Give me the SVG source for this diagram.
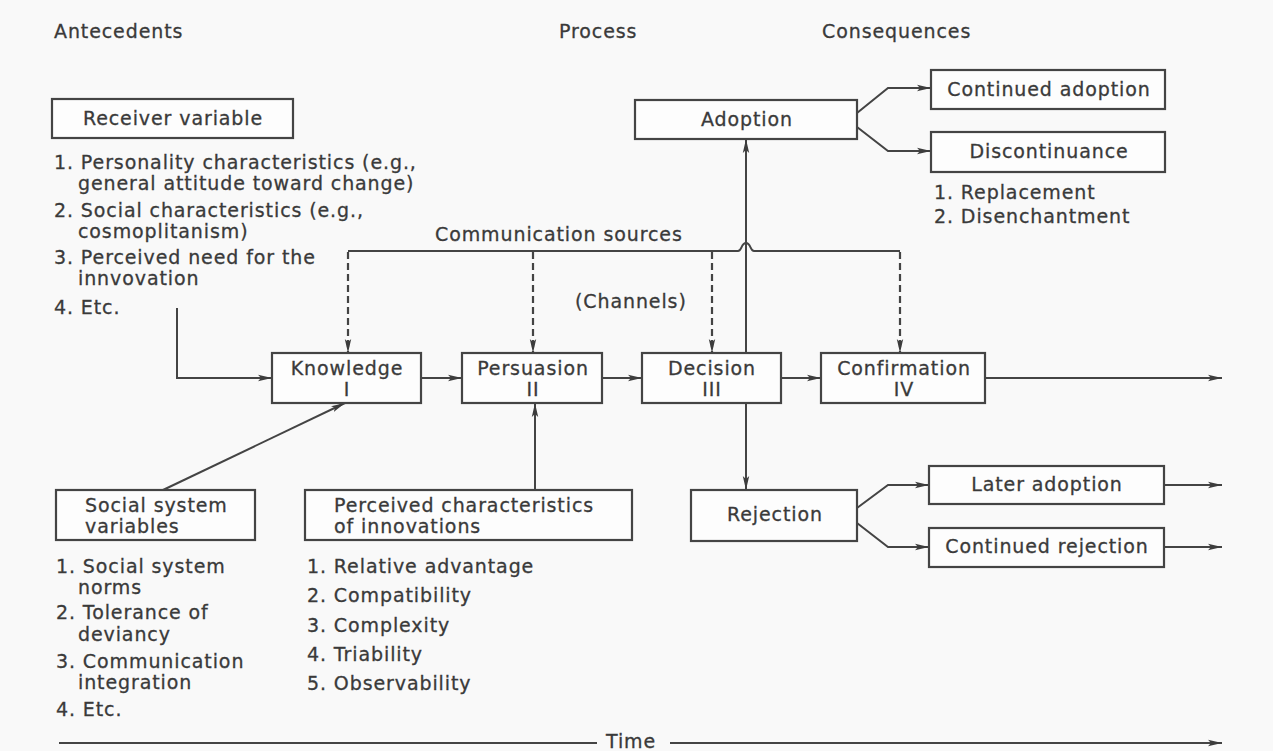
<svg xmlns="http://www.w3.org/2000/svg" width="1273" height="751" viewBox="0 0 1273 751">
<defs>
<marker id="ah" viewBox="0 0 14 8" refX="14" refY="4" markerWidth="14" markerHeight="8" markerUnits="userSpaceOnUse" orient="auto">
<path d="M0,0.8 L14,4 L0,7.2 L3,4 Z" fill="#3c3c3c"/>
</marker>
<style>
text{font-family:"DejaVu Sans","Liberation Sans",sans-serif;font-size:19px;fill:#3a3a3a;stroke:#3a3a3a;stroke-width:0.3px;letter-spacing:0.9px}
.c{text-anchor:middle}
.box{fill:#fdfdfd;stroke:#444;stroke-width:2.2}
.ln{fill:none;stroke:#444;stroke-width:2}
.ar{fill:none;stroke:#444;stroke-width:2;marker-end:url(#ah)}
.da{fill:none;stroke:#444;stroke-width:2.2;stroke-dasharray:7 4;marker-end:url(#ah)}
</style>
</defs>
<rect x="0" y="0" width="1273" height="751" fill="#f9f9f9"/>

<g id="headings">
<text x="54" y="38">Antecedents</text>
<text x="559" y="38">Process</text>
<text x="822" y="38">Consequences</text>
</g>

<g id="connectors">
<path class="ln" d="M348,251 H738 C742,251 741,243 746,243 C751,243 750,251 754,251 H900"/>
<path class="da" d="M348,252 V353"/>
<path class="da" d="M533,252 V353"/>
<path class="da" d="M712,252 V353"/>
<path class="da" d="M900,252 V353"/>
<path class="ar" d="M177,308 V378 H272"/>
<path class="ar" d="M163,490 L345,403"/>
<path class="ar" d="M535,490 V403"/>
<path class="ar" d="M421,378 H462"/>
<path class="ar" d="M602,378 H642"/>
<path class="ar" d="M781,378 H821"/>
<path class="ar" d="M985,378 H1222"/>
<path class="ar" d="M746,353 V139"/>
<path class="ar" d="M746,403 V490"/>
<path class="ar" d="M857,113 L888,88 H931"/>
<path class="ar" d="M857,127 L888,151 H931"/>
<path class="ar" d="M857,508 L888,485 H929"/>
<path class="ar" d="M857,523 L888,547 H929"/>
<path class="ar" d="M1164,485 H1222"/>
<path class="ar" d="M1164,547 H1222"/>
<path class="ln" d="M59,743 H597"/>
<path class="ar" d="M670,743 H1222"/>
</g>

<g id="time-label"><text x="606" y="748">Time</text></g>
<g id="comm-label"><text x="435" y="241">Communication sources</text></g>
<g id="channels-label"><text x="575" y="308">(Channels)</text></g>

<g id="receiver">
<rect class="box" x="52" y="99" width="241" height="39"/>
<text class="c" x="173" y="125">Receiver variable</text>
<text x="54" y="169">1. Personality characteristics (e.g.,</text>
<text x="78" y="190">general attitude toward change)</text>
<text x="54" y="217">2. Social characteristics (e.g.,</text>
<text x="78" y="238">cosmoplitanism)</text>
<text x="54" y="264">3. Perceived need for the</text>
<text x="78" y="285">innvovation</text>
<text x="54" y="314">4. Etc.</text>
</g>

<g id="knowledge">
<rect class="box" x="272" y="353" width="149" height="50"/>
<text class="c" x="347" y="375">Knowledge</text>
<text class="c" x="347" y="396">I</text>
</g>
<g id="persuasion">
<rect class="box" x="462" y="353" width="140" height="50"/>
<text class="c" x="533" y="375">Persuasion</text>
<text class="c" x="533" y="396">II</text>
</g>
<g id="decision">
<rect class="box" x="642" y="353" width="139" height="50"/>
<text class="c" x="712" y="375">Decision</text>
<text class="c" x="712" y="396">III</text>
</g>
<g id="confirmation">
<rect class="box" x="821" y="353" width="164" height="50"/>
<text class="c" x="904" y="375">Confirmation</text>
<text class="c" x="904" y="396">IV</text>
</g>

<g id="adoption">
<rect class="box" x="635" y="100" width="222" height="39"/>
<text class="c" x="747" y="126">Adoption</text>
</g>
<g id="continued-adoption">
<rect class="box" x="931" y="70" width="234" height="39"/>
<text class="c" x="1049" y="96">Continued adoption</text>
</g>
<g id="discontinuance">
<rect class="box" x="931" y="132" width="234" height="40"/>
<text class="c" x="1049" y="158">Discontinuance</text>
<text x="934" y="199">1. Replacement</text>
<text x="934" y="223">2. Disenchantment</text>
</g>

<g id="rejection">
<rect class="box" x="691" y="490" width="166" height="51"/>
<text class="c" x="775" y="521">Rejection</text>
</g>
<g id="later-adoption">
<rect class="box" x="929" y="466" width="235" height="38"/>
<text class="c" x="1047" y="491">Later adoption</text>
</g>
<g id="continued-rejection">
<rect class="box" x="929" y="528" width="235" height="39"/>
<text class="c" x="1047" y="553">Continued rejection</text>
</g>

<g id="social-system">
<rect class="box" x="56" y="490" width="199" height="50"/>
<text x="85" y="512">Social system</text>
<text x="85" y="533">variables</text>
<text x="56" y="573">1. Social system</text>
<text x="78" y="594">norms</text>
<text x="56" y="619">2. Tolerance of</text>
<text x="78" y="641">deviancy</text>
<text x="56" y="668">3. Communication</text>
<text x="78" y="689">integration</text>
<text x="56" y="716">4. Etc.</text>
</g>

<g id="perceived">
<rect class="box" x="305" y="490" width="327" height="50"/>
<text x="334" y="512">Perceived characteristics</text>
<text x="334" y="533">of innovations</text>
<text x="307" y="573">1. Relative advantage</text>
<text x="307" y="602">2. Compatibility</text>
<text x="307" y="632">3. Complexity</text>
<text x="307" y="661">4. Triability</text>
<text x="307" y="690">5. Observability</text>
</g>
</svg>
